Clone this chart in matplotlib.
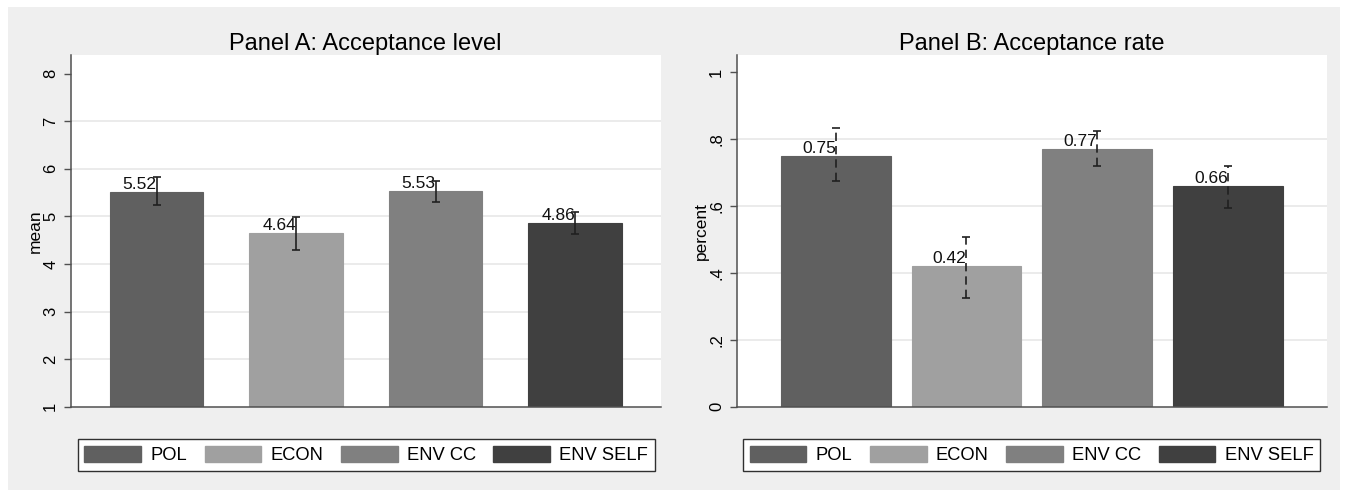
import numpy as np
import matplotlib.pyplot as plt
from matplotlib.patches import Rectangle

plt.rcParams['font.family'] = ['Liberation Sans', 'DejaVu Sans']

groups = ['POL', 'ECON', 'ENV CC', 'ENV SELF']
colors = ['#606060', '#a0a0a0', '#808080', '#404040']

# Panel A: mean acceptance level with 95% CI
level_mean = [5.52, 4.64, 5.53, 4.86]
level_lo = [5.23, 4.30, 5.31, 4.63]
level_hi = [5.83, 4.98, 5.75, 5.10]

# Panel B: acceptance rate with 95% CI
rate_mean = [0.75, 0.42, 0.77, 0.66]
rate_lo = [0.675, 0.324, 0.721, 0.593]
rate_hi = [0.834, 0.508, 0.825, 0.721]

level_ticks = [1, 2, 3, 4, 5, 6, 7, 8]
rate_ticks = [0, 0.2, 0.4, 0.6, 0.8, 1]
rate_ticklabels = ['0', '.2', '.4', '.6', '.8', '1']

W, H = 1347, 491
fig = plt.figure(figsize=(W / 100, H / 100), dpi=100)
fig.patch.set_facecolor('white')
fig.patches.append(Rectangle((8 / W, 1 / H), (1340 - 8) / W, (490 - 7) / H,
                             transform=fig.transFigure, facecolor='#efefef',
                             edgecolor='none', zorder=-5))

axA = fig.add_axes([70.7 / W, 84.3 / H, 590 / W, 351.7 / H])
axB = fig.add_axes([736.7 / W, 84.3 / H, 590 / W, 351.7 / H])

x = np.arange(len(groups))


def style_axis(ax, ticks, ticklabels, ylabel):
    ax.set_facecolor('white')
    for s in ['top', 'right']:
        ax.spines[s].set_visible(False)
    for s in ['left', 'bottom']:
        ax.spines[s].set_color('#505050')
        ax.spines[s].set_linewidth(1.1)
    ax.set_yticks(ticks)
    ax.set_yticklabels(ticklabels, rotation=90, va='center', fontsize=12)
    ax.tick_params(axis='y', length=5, width=1.0, color='#505050', pad=4)
    ax.set_xticks([])
    # grid lines only between the axis extremes
    for t in ticks[1:-1]:
        ax.axhline(t, color='#e6e6e6', lw=1.1, zorder=0)
    ax.set_ylabel(ylabel, fontsize=12.5)
    ax.yaxis.set_label_coords(-0.047, 0.5)


def draw_panel(ax, means, lo, hi, base, width, dashed, fmt):
    means = np.array(means)
    lo = np.array(lo)
    hi = np.array(hi)
    ax.bar(x, means - base, bottom=base, width=width, color=colors,
           edgecolor=colors, linewidth=0.8, zorder=2)
    eb = ax.errorbar(x, means, yerr=[means - lo, hi - means], fmt='none',
                     ecolor='#202020', elinewidth=1.2, capsize=2.6,
                     capthick=1.2, zorder=3)
    if dashed:
        eb[2][0].set_linestyle((0, (5, 3)))
    for xi, m in zip(x, means):
        ax.text(xi, m, fmt.format(m), ha='right', va='bottom',
                fontsize=12.5, color='#111111', zorder=4)


draw_panel(axA, level_mean, level_lo, level_hi, 1, 0.671, False, '{:.2f}')
axA.set_xlim(-0.617, 3.615)
axA.set_ylim(1, 8.389)
style_axis(axA, level_ticks, [str(t) for t in level_ticks], 'mean')
axA.set_title('Panel A: Acceptance level', fontsize=17, pad=2)

draw_panel(axB, rate_mean, rate_lo, rate_hi, 0, 0.84, True, '{:.2f}')
axB.set_xlim(-0.759, 3.758)
axB.set_ylim(0, 1.052)
style_axis(axB, rate_ticks, rate_ticklabels, 'percent')
axB.set_title('Panel B: Acceptance rate', fontsize=17, pad=2)

# legends below each panel
handles = [Rectangle((0, 0), 1, 1, facecolor=c, edgecolor=c) for c in colors]
for ax, cx in [(axA, 366.3), (axB, 1031.5)]:
    leg = ax.legend(handles, groups, loc='center', ncol=4,
                    bbox_to_anchor=(cx / W, 36 / H),
                    bbox_transform=fig.transFigure, fontsize=13.2,
                    handlelength=3.1, handleheight=1.0, handletextpad=0.5,
                    columnspacing=0.95, borderpad=0.35, borderaxespad=0,
                    fancybox=False, framealpha=1, edgecolor='#303030')
    leg.get_frame().set_linewidth(1.0)

fig.savefig('out.png', dpi=100)
